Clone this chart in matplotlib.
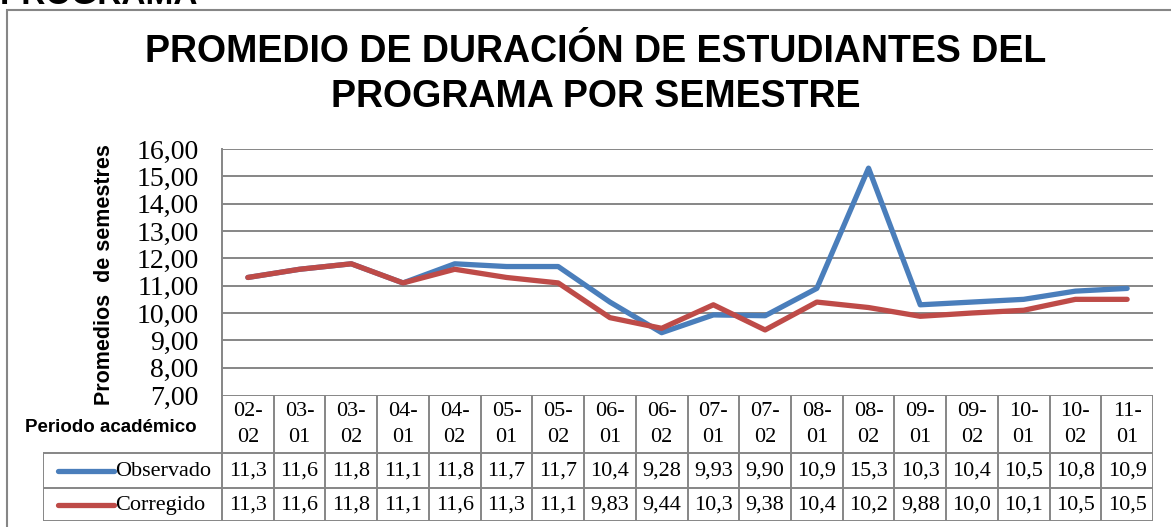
import matplotlib
matplotlib.use("Agg")
import matplotlib.pyplot as plt
from matplotlib.patches import Rectangle

# data
periodos = ["02-02", "03-01", "03-02", "04-01", "04-02", "05-01", "05-02", "06-01", "06-02",
            "07-01", "07-02", "08-01", "08-02", "09-01", "09-02", "10-01", "10-02", "11-01"]
observado = [11.3, 11.6, 11.8, 11.1, 11.8, 11.7, 11.7, 10.4, 9.28,
             9.93, 9.90, 10.9, 15.3, 10.3, 10.4, 10.5, 10.8, 10.9]
corregido = [11.3, 11.6, 11.8, 11.1, 11.6, 11.3, 11.1, 9.83, 9.44,
             10.3, 9.38, 10.4, 10.2, 9.88, 10.0, 10.1, 10.5, 10.5]
yticks = [7, 8, 9, 10, 11, 12, 13, 14, 15, 16]

AZUL = "#4A7EBB"
ROJO = "#BE4B48"
GRIS = "#868686"
SERIF = "Liberation Serif"
SANS = "Liberation Sans"

W, H = 1171, 527


def fmt(v):
    s = f"{v:.2f}" if v < 10 else f"{v:.1f}"
    return s.replace(".", ",")


fig = plt.figure(figsize=(W / 100, H / 100), dpi=100)

# chart outer border
fig.patches.append(Rectangle((7 / W, -0.1), 1.2, 1 - 10 / H + 0.1, transform=fig.transFigure,
                             fill=False, edgecolor=GRIS, lw=1.5))

# clipped heading of the page above
fig.text(0, 1 - 4 / H, "PROGRAMA", fontsize=24, fontweight="bold", family=SANS,
         va="baseline", ha="left")

# title
fig.text(596 / W, 1 - 52 / H, "PROMEDIO DE DURACIÓN DE ESTUDIANTES DEL", fontsize=27,
         fontweight="bold", family=SANS, ha="center", va="center")
fig.text(596 / W, 1 - 97 / H, "PROGRAMA POR SEMESTRE", fontsize=27,
         fontweight="bold", family=SANS, ha="center", va="center")

# plot area
x0, x1, ytop, ybot = 222, 1153, 149, 395
ax = fig.add_axes([x0 / W, 1 - ybot / H, (x1 - x0) / W, (ybot - ytop) / H])
n = len(periodos)
xs = list(range(n))
ax.set_xlim(-0.5, n - 0.5)
ax.set_ylim(7, 16)
ax.set_yticks(yticks)
ax.set_yticklabels([f"{t},00" for t in yticks], family=SERIF, fontsize=20)
ax.tick_params(axis="y", length=0, pad=17)
ax.set_xticks([])
for t in yticks[1:]:
    ax.axhline(t, color=GRIS, lw=1.4, zorder=1)
for s in ["top", "right", "bottom"]:
    ax.spines[s].set_visible(False)
ax.spines["left"].set_color(GRIS)
ax.spines["left"].set_linewidth(1.4)
ax.plot(xs, observado, color=AZUL, lw=3.8, solid_capstyle="round", solid_joinstyle="round", zorder=3)
ax.plot(xs, corregido, color=ROJO, lw=3.8, solid_capstyle="round", solid_joinstyle="round", zorder=4)

fig.text(105 / W, 1 - 275 / H, "Promedios  de semestres", rotation=90, fontsize=15.5,
         fontweight="bold", family=SANS, ha="center", va="center")

# data table below the plot
colw = (x1 - x0) / n
tl = 43
tax = fig.add_axes([tl / W, 1 - 521 / H, (x1 - tl) / W, (521 - ybot) / H])
tax.set_xlim(-0.5 - (x0 - tl) / colw, n - 0.5)
tax.set_ylim(521, ybot)
tax.axis("off")
xl = -0.5 - (x0 - tl) / colw
lk = dict(color=GRIS, lw=1.4, solid_capstyle="butt")
tax.plot([-0.5, n - 0.5], [ybot, ybot], **lk)
for yy in [453, 488, 521]:
    tax.plot([xl, n - 0.5], [yy, yy], **lk)
for i in range(n + 1):
    tax.plot([i - 0.5, i - 0.5], [ybot, 521], **lk)
tax.plot([xl, xl], [453, 521], **lk)

for i, p in enumerate(periodos):
    a, b = p.split("-")
    tax.text(i, 412, a + "-", family=SERIF, fontsize=16, ha="center", va="center")
    tax.text(i, 437, b, family=SERIF, fontsize=16, ha="center", va="center")
    tax.text(i, 471, fmt(observado[i]), family=SERIF, fontsize=16, ha="center", va="center")
    tax.text(i, 505, fmt(corregido[i]), family=SERIF, fontsize=16, ha="center", va="center")

fig.text(25 / W, 1 - 428 / H, "Periodo académico", fontsize=13.5, fontweight="bold",
         family=SANS, ha="left", va="center")

def px(v):
    return -0.5 + (v - x0) / colw

for yy, col, lab in [(470.5, AZUL, "Observado"), (504.5, ROJO, "Corregido")]:
    tax.plot([px(58), px(114)], [yy, yy], color=col, lw=3.8, solid_capstyle="round")
    tax.text(px(115), yy + 1, lab, family=SERIF, fontsize=16, ha="left", va="center")

fig.savefig("out.png", dpi=100)
